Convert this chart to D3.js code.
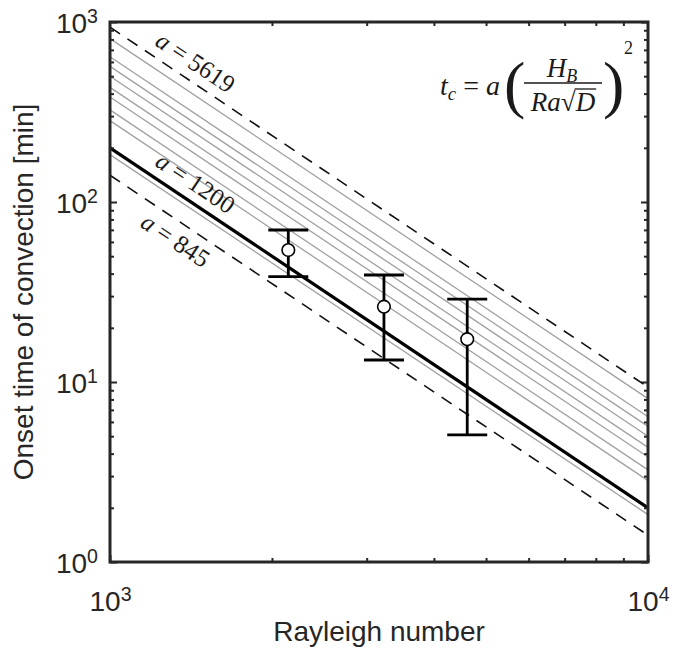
<!DOCTYPE html>
<html><head><meta charset="utf-8">
<script src="https://cdn.jsdelivr.net/npm/d3@7"></script>
<style>body{margin:0;background:#fff} svg{display:block}</style>
</head><body>
<svg id="chart" width="673" height="652"></svg>
<script>
// ---- data ----
const xMajor = [1e3, 1e4];
const xExp = ["3", "4"];
const yMajor = [1e0, 1e1, 1e2, 1e3];
const yExp = ["0", "1", "2", "3"];
const xLabel = "Rayleigh number";
const yLabel = "Onset time of convection [min]";
const raRange = [1e3, 1e4];
const coefHD = 200 * 1e6 / 1200;          // (H_B^2 / D): a=1200 -> 200 min at Ra=1000
const aDashed = [5619, 845];
const aThick = [1200];
const aGray = [4850, 3850, 3400, 3000, 2600, 2300, 1950, 1700, 1100];
const lineLabels = [
  {a: 5619, text: "5619", side: -1},
  {a: 1200, text: "1200", side: -1},
  {a: 845,  text: "845",  side: 1}
];
const obsRa = [2145, 3230, 4613];
const obsT  = [54.1, 26.2, 17.3];
const obsHi = [69.9, 39.3, 28.9];
const obsLo = [38.5, 13.25, 5.08];

// ---- layout ----
const L = 110, R = 648, T = 22, B = 562;
const svg = d3.select("#chart");
const x = d3.scaleLog().domain([1e3, 1e4]).range([L, R]);
const y = d3.scaleLog().domain([1, 1e3]).range([B, T]);
const tc = (a, ra) => a * coefHD / (ra * ra);
const line = d3.line().x(d => x(d[0])).y(d => y(d[1]));
const seg = a => raRange.map(r => [r, tc(a, r)]);

const plot = svg.append("g");
plot.selectAll(".gray").data(aGray).join("path")
  .attr("d", a => line(seg(a))).attr("fill", "none")
  .attr("stroke", "#a0a0a0").attr("stroke-width", 1.3);
plot.selectAll(".dash").data(aDashed).join("path")
  .attr("d", a => line(seg(a))).attr("fill", "none")
  .attr("stroke", "#111").attr("stroke-width", 1.6).attr("stroke-dasharray", "12,9");
plot.selectAll(".thick").data(aThick).join("path")
  .attr("d", a => line(seg(a))).attr("fill", "none")
  .attr("stroke", "#000").attr("stroke-width", 3.2);

// labels on lines
const ang = Math.atan2(y(tc(1, 2000)) - y(tc(1, 1000)), x(2000) - x(1000)) * 180 / Math.PI;
lineLabels.forEach(d => {
  const ra = 1380;
  const px = x(ra), py = y(tc(d.a, ra));
  const off = d.side < 0 ? -10 : 26;
  const t = svg.append("text")
    .attr("transform", `translate(${px},${py}) rotate(${ang}) translate(0,${off})`)
    .attr("text-anchor", "middle")
    .attr("font-family", "'Liberation Serif', 'DejaVu Serif', serif")
    .attr("font-size", 25).attr("fill", "#1a1a1a");
  t.append("tspan").attr("font-style", "italic").text("a");
  t.append("tspan").text(" = " + d.text);
});

// error bars
const eb = svg.append("g");
obsRa.forEach((ra, i) => {
  const cx = x(ra);
  eb.append("line").attr("x1", cx).attr("x2", cx).attr("y1", y(obsHi[i])).attr("y2", y(obsLo[i]))
    .attr("stroke", "#000").attr("stroke-width", 2.8);
  [obsHi[i], obsLo[i]].forEach(v => eb.append("line")
    .attr("x1", cx - 20).attr("x2", cx + 20).attr("y1", y(v)).attr("y2", y(v))
    .attr("stroke", "#000").attr("stroke-width", 2.8));
  eb.append("circle").attr("cx", cx).attr("cy", y(obsT[i])).attr("r", 6.3)
    .attr("fill", "#fff").attr("stroke", "#000").attr("stroke-width", 1.6);
});

// ---- axes ----
const axColor = "#262626";
const sans = "'Liberation Sans', Arial, Helvetica, sans-serif";
function minors(dom) {
  const out = [];
  for (let p = Math.log10(dom[0]); p < Math.log10(dom[1]); p++)
    for (let k = 2; k <= 9; k++) out.push(k * Math.pow(10, p));
  return out;
}
function style(g) {
  g.select(".domain").remove();
  g.selectAll("line").attr("stroke", axColor).attr("stroke-width", 2);
  g.selectAll("text").attr("fill", axColor).attr("font-family", sans).attr("font-size", 28);
}
function sup(g, exps) {
  g.selectAll(".tick text").each(function(d, i) {
    const t = d3.select(this); t.text(null);
    t.append("tspan").text("10");
    t.append("tspan").attr("dy", "-0.5em").attr("font-size", "0.7em").text(exps[i]);
  });
}
const gxb = svg.append("g").attr("transform", `translate(0,${B})`)
  .call(d3.axisBottom(x).tickValues(xMajor).tickSize(-7).tickSizeOuter(0).tickPadding(29));
style(gxb); sup(gxb, xExp);
const gxbm = svg.append("g").attr("transform", `translate(0,${B})`)
  .call(d3.axisBottom(x).tickValues(minors([1e3, 1e4])).tickSize(-4).tickSizeOuter(0).tickFormat(""));
style(gxbm);
const gxt = svg.append("g").attr("transform", `translate(0,${T})`)
  .call(d3.axisTop(x).tickValues(minors([1e3, 1e4])).tickSize(-4).tickSizeOuter(0).tickFormat(""));
style(gxt);
const gyl = svg.append("g").attr("transform", `translate(${L},0)`)
  .call(d3.axisLeft(y).tickValues(yMajor).tickSize(-7).tickSizeOuter(0).tickPadding(12));
style(gyl); sup(gyl, yExp);
gyl.selectAll(".tick text").attr("dy", "0.36em");
const gylm = svg.append("g").attr("transform", `translate(${L},0)`)
  .call(d3.axisLeft(y).tickValues(minors([1, 1e3])).tickSize(-4).tickSizeOuter(0).tickFormat(""));
style(gylm);
const gyr = svg.append("g").attr("transform", `translate(${R},0)`)
  .call(d3.axisRight(y).tickValues(yMajor).tickSize(-7).tickSizeOuter(0).tickFormat(""));
style(gyr);
const gyrm = svg.append("g").attr("transform", `translate(${R},0)`)
  .call(d3.axisRight(y).tickValues(minors([1, 1e3])).tickSize(-4).tickSizeOuter(0).tickFormat(""));
style(gyrm);

svg.append("rect").attr("x", L).attr("y", T).attr("width", R - L).attr("height", B - T)
  .attr("fill", "none").attr("stroke", axColor).attr("stroke-width", 3);

svg.append("text").attr("x", (L + R) / 2).attr("y", 641).attr("text-anchor", "middle")
  .attr("font-family", sans).attr("font-size", 28)
  .attr("fill", axColor).text(xLabel);
svg.append("text").attr("transform", `translate(33,${(T + B) / 2}) rotate(-90)`).attr("text-anchor", "middle")
  .attr("font-family", sans).attr("font-size", 28)
  .attr("fill", axColor).text(yLabel);

// ---- formula ----
const fc = "#1a1a1a";
const f = svg.append("g").attr("font-family", "'Liberation Serif', 'DejaVu Serif', serif").attr("fill", fc);
const ft = f.append("text").attr("x", 440).attr("y", 95).attr("font-size", 28);
ft.append("tspan").attr("font-style", "italic").text("t");
ft.append("tspan").attr("font-style", "italic").attr("font-size", 19).attr("dy", 5).text("c");
ft.append("tspan").attr("dy", -5).text(" = ");
ft.append("tspan").attr("font-style", "italic").text("a");
f.append("text").attr("x", 504).attr("y", 106).attr("font-size", 64).text("(");
const fn = f.append("text").attr("x", 562).attr("y", 77).attr("text-anchor", "middle").attr("font-size", 27);
fn.append("tspan").attr("font-style", "italic").text("H");
fn.append("tspan").attr("font-style", "italic").attr("font-size", 18).attr("dy", 5).text("B");
f.append("line").attr("x1", 524).attr("x2", 602).attr("y1", 83).attr("y2", 83)
  .attr("stroke", fc).attr("stroke-width", 1.5);
const fd = f.append("text").attr("x", 563).attr("y", 111).attr("text-anchor", "middle").attr("font-size", 27);
fd.append("tspan").attr("font-style", "italic").text("Ra");
fd.append("tspan").text("\u221A");
fd.append("tspan").attr("font-style", "italic").text("D");
// overline of the radical, placed from the rendered glyph extents
const fdn = fd.node();
const eRad = fdn.getExtentOfChar(2), eD = fdn.getExtentOfChar(3);
f.append("line").attr("x1", eRad.x + eRad.width - 1).attr("x2", eD.x + eD.width + 1)
  .attr("y1", 89).attr("y2", 89).attr("stroke", fc).attr("stroke-width", 1.3);
f.append("text").attr("x", 603).attr("y", 106).attr("font-size", 64).text(")");
f.append("text").attr("x", 624).attr("y", 54).attr("font-size", 18).text("2");
</script>
</body></html>
